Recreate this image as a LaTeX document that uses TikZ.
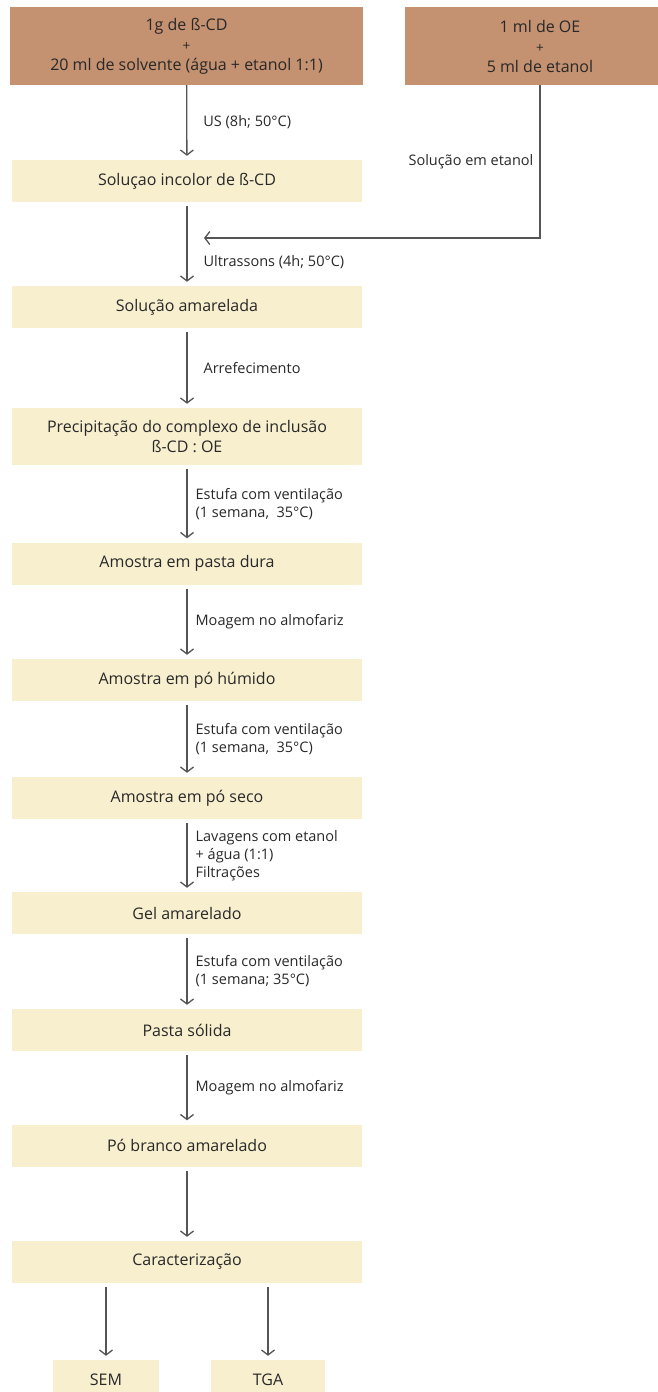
\documentclass[tikz,border=0pt]{standalone}
\usepackage{fontspec}
\setmainfont{Open Sans}
\usetikzlibrary{arrows.meta}

\definecolor{castanho}{RGB}{196,145,113}
\definecolor{creme}{RGB}{248,239,207}
\definecolor{cinzaseta}{RGB}{85,85,85}
\definecolor{texto}{RGB}{40,40,40}

\begin{document}
\begin{tikzpicture}[x=1pt, y=-1pt,
    caixa/.style={fill=creme, minimum width=350pt, minimum height=42pt,
        inner sep=0pt, align=center, text=texto, font=\fontsize{16}{20}\selectfont},
    inicio/.style={caixa, fill=castanho, minimum height=78pt},
    rotulo/.style={anchor=west, inner sep=0pt, xshift=8pt, align=left,
        text=texto, font=\fontsize{14.5}{18}\selectfont},
    passo/.style={draw=cinzaseta, line width=1.3pt,
        -{Straight Barb[length=5pt,width=13pt]}, shorten <=4pt, shorten >=4pt}]

    % 画布大小
    \useasboundingbox (0,0) rectangle (658,1392);

    % 起始物料
    \def\mais{{\fontsize{13.5}{20}\selectfont +}}
    \node[inicio, minimum width=353pt] (cd) at (186.5,46)
        {1g de ß-CD\\\mais\\20 ml de solvente (água + etanol 1:1)};
    \node[inicio, minimum width=270pt] (oe) at (540,46)
        {1 ml de OE\\\mais\\5 ml de etanol};

    % 主流程各步骤
    \node[caixa] (incolor) at (187,181) {Soluçao incolor de ß-CD};
    \node[caixa] (amarela) at (187,307) {Solução amarelada};
    \node[caixa, minimum height=57pt] (precip) at (187,436.5)
        {Precipitação do complexo de inclusão\\ß-CD : OE};
    \node[caixa] (pastadura) at (187,563.5) {Amostra em pasta dura};
    \node[caixa] (humido) at (187,680) {Amostra em pó húmido};
    \node[caixa] (seco) at (187,798) {Amostra em pó seco};
    \node[caixa] (gel) at (187,913) {Gel amarelado};
    \node[caixa] (solida) at (187,1030) {Pasta sólida};
    \node[caixa] (branco) at (187,1145.5) {Pó branco amarelado};
    \node[caixa] (caract) at (187,1262) {Caracterização};

    % 表征方法
    \node[caixa, minimum width=106pt, minimum height=40pt] (sem) at (106,1380) {SEM};
    \node[caixa, minimum width=114pt, minimum height=40pt] (tga) at (268,1380) {TGA};

    % 箭头与条件
    \draw[passo, shorten <=0pt] (cd) -- (incolor)
        node[rotulo, midway, xshift=8pt] {US (8h; 50°C)};
    \draw[passo] (incolor) -- (amarela)
        node[rotulo, pos=0.72, xshift=8pt] {Ultrassons (4h; 50°C)};
    \draw[passo] (amarela) -- (precip)
        node[rotulo, midway, xshift=8pt] {Arrefecimento};
    \draw[passo] (precip) -- (pastadura)
        node[rotulo, midway] {Estufa com ventilação\\(1 semana,\ \ 35°C)};
    \draw[passo] (pastadura) -- (humido)
        node[rotulo, midway] {Moagem no almofariz};
    \draw[passo] (humido) -- (seco)
        node[rotulo, midway] {Estufa com ventilação\\(1 semana,\ \ 35°C)};
    \draw[passo] (seco) -- (gel)
        node[rotulo, midway] {Lavagens com etanol\\+ água (1:1)\\Filtrações};
    \draw[passo] (gel) -- (solida)
        node[rotulo, midway] {Estufa com ventilação\\(1 semana; 35°C)};
    \draw[passo] (solida) -- (branco)
        node[rotulo, midway] {Moagem no almofariz};
    \draw[passo] (branco) -- (caract);
    \draw[passo] (caract.south -| sem.north) -- (sem);
    \draw[passo] (caract.south -| tga.north) -- (tga);

    % 乙醇溶液加入
    \coordinate (juncao) at (204,238);
    \draw[passo, shorten <=0pt, shorten >=0pt] (oe) |- (juncao)
        node[pos=0.25, anchor=east, inner sep=0pt, xshift=-6pt,
            text=texto, font=\fontsize{14.5}{18}\selectfont] {Solução em etanol};
\end{tikzpicture}
\end{document}
